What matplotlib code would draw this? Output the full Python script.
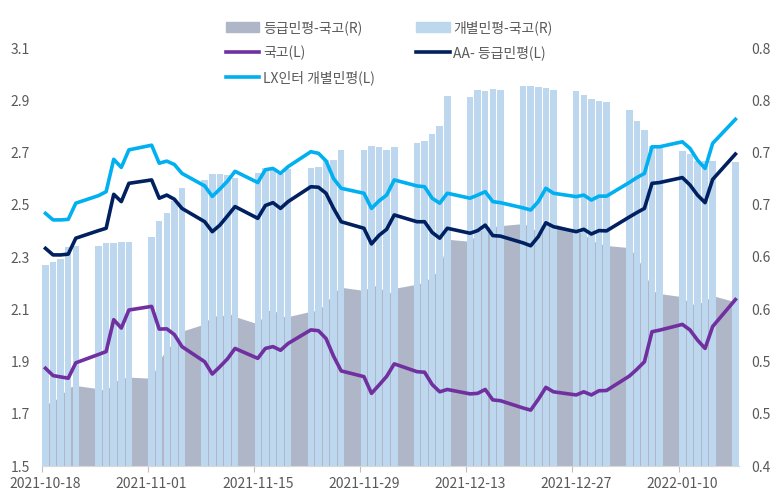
import matplotlib
matplotlib.use("Agg")
import matplotlib.pyplot as plt
from matplotlib.patches import Patch
from matplotlib.lines import Line2D
import numpy as np
import pandas as pd

plt.rcParams['font.family'] = ['Noto Sans CJK KR', 'DejaVu Sans']

# business days 2021-10-18 .. 2022-01-17
dates = pd.bdate_range('2021-10-18', '2022-01-17')

# left axis (%)
ktb = [1.874, 1.846, 1.841, 1.836, 1.895,
       1.927, 1.938, 2.060, 2.028, 2.097,
       2.111, 2.024, 2.025, 2.003, 1.957,
       1.899, 1.852, 1.880, 1.910, 1.950,
       1.912, 1.950, 1.957, 1.943, 1.969,
       2.021, 2.018, 1.988, 1.920, 1.864,
       1.842, 1.778, 1.810, 1.843, 1.891,
       1.861, 1.859, 1.812, 1.784, 1.793,
       1.776, 1.778, 1.793, 1.753, 1.750,
       1.722, 1.714, 1.755, 1.801, 1.784,
       1.772, 1.784, 1.772, 1.788, 1.789,
       1.844, 1.870, 1.899, 2.014, 2.020,
       2.042, 2.021, 1.982, 1.950, 2.034,
       2.137]
aa_minus = [2.333, 2.308, 2.308, 2.311, 2.372,
            2.401, 2.410, 2.540, 2.512, 2.582,
            2.595, 2.525, 2.537, 2.521, 2.486,
            2.435, 2.397, 2.422, 2.457, 2.493,
            2.448, 2.497, 2.508, 2.486, 2.512,
            2.569, 2.567, 2.544, 2.486, 2.435,
            2.410, 2.350, 2.383, 2.406, 2.461,
            2.435, 2.435, 2.394, 2.372, 2.410,
            2.391, 2.401, 2.422, 2.382, 2.380,
            2.354, 2.343, 2.378, 2.431, 2.416,
            2.397, 2.406, 2.388, 2.401, 2.400,
            2.453, 2.470, 2.486, 2.582, 2.585,
            2.604, 2.576, 2.537, 2.508, 2.597,
            2.694]
lx_intl = [2.467, 2.442, 2.442, 2.444, 2.506,
           2.535, 2.550, 2.674, 2.643, 2.710,
           2.728, 2.659, 2.667, 2.654, 2.620,
           2.572, 2.532, 2.560, 2.590, 2.628,
           2.585, 2.634, 2.639, 2.620, 2.646,
           2.703, 2.697, 2.668, 2.600, 2.563,
           2.544, 2.486, 2.515, 2.537, 2.595,
           2.572, 2.569, 2.525, 2.506, 2.544,
           2.525, 2.537, 2.550, 2.512, 2.508,
           2.488, 2.480, 2.512, 2.563, 2.544,
           2.531, 2.537, 2.518, 2.533, 2.533,
           2.585, 2.604, 2.620, 2.722, 2.722,
           2.741, 2.716, 2.671, 2.639, 2.735,
           2.827]

# right axis (%p)
grade_spread = [0.459, 0.462, 0.467, 0.475, 0.477,
                0.474, 0.472, 0.480, 0.484, 0.485,
                0.484, 0.501, 0.512, 0.518, 0.529,
                0.536, 0.545, 0.542, 0.547, 0.543,
                0.536, 0.547, 0.551, 0.543, 0.543,
                0.548, 0.549, 0.556, 0.566, 0.571,
                0.568, 0.572, 0.573, 0.563, 0.570,
                0.574, 0.576, 0.582, 0.588, 0.617,
                0.615, 0.623, 0.629, 0.629, 0.630,
                0.632, 0.629, 0.623, 0.630, 0.632,
                0.625, 0.622, 0.616, 0.613, 0.611,
                0.609, 0.600, 0.587, 0.568, 0.565,
                0.562, 0.555, 0.555, 0.558, 0.563,
                0.557]
indiv_spread = [0.592, 0.595, 0.598, 0.610, 0.611,
                0.611, 0.613, 0.613, 0.614, 0.614,
                0.619, 0.634, 0.642, 0.654, 0.666,
                0.674, 0.679, 0.679, 0.678, 0.676,
                0.680, 0.685, 0.683, 0.679, 0.684,
                0.685, 0.686, 0.693, 0.693, 0.702,
                0.702, 0.706, 0.705, 0.702, 0.705,
                0.709, 0.711, 0.718, 0.725, 0.754,
                0.753, 0.760, 0.759, 0.761, 0.760,
                0.764, 0.764, 0.763, 0.762, 0.760,
                0.759, 0.755, 0.751, 0.749, 0.748,
                0.741, 0.730, 0.722, 0.706, 0.704,
                0.701, 0.699, 0.692, 0.692, 0.692,
                0.691]

tick_dates = pd.to_datetime(['2021-10-18', '2021-11-01', '2021-11-15', '2021-11-29',
                             '2021-12-13', '2021-12-27', '2022-01-10'])
left_ticks = [1.5, 1.7, 1.9, 2.1, 2.3, 2.5, 2.7, 2.9, 3.1]
right_ticks = [0.40, 0.45, 0.50, 0.55, 0.60, 0.65, 0.70, 0.75, 0.80]
right_labels = ['0.4', '0.5', '0.5', '0.6', '0.6', '0.7', '0.7', '0.8', '0.8']

c_gray = '#AEB6C8'
c_bar = '#BDD7EE'
c_ktb = '#7030A0'
c_aa = '#002060'
c_lx = '#00B0F0'
c_txt = '#595959'

x = dates + pd.Timedelta(hours=12)

fig = plt.figure(figsize=(7.78, 4.97), dpi=100)
ax = fig.add_axes([41.7 / 778, 31 / 497, 697.5 / 778, 418 / 497])
ax2 = ax.twinx()
ax.set_zorder(ax2.get_zorder() + 1)
ax.patch.set_visible(False)

ax2.fill_between(x, 0.4, grade_spread, color=c_gray, lw=0, zorder=1)
ax2.bar(x, indiv_spread, width=0.86, color=c_bar, zorder=2)

ax.plot(x, ktb, color=c_ktb, lw=2.6, solid_joinstyle='round')
ax.plot(x, aa_minus, color=c_aa, lw=2.6, solid_joinstyle='round')
ax.plot(x, lx_intl, color=c_lx, lw=2.6, solid_joinstyle='round')

ax.set_xlim(pd.Timestamp('2021-10-18'), pd.Timestamp('2022-01-18'))
ax.set_ylim(1.5, 3.1)
ax2.set_ylim(0.4, 0.8)

ax.set_yticks(left_ticks)
ax.set_yticklabels(['%.1f' % v for v in left_ticks])
ax2.set_yticks(right_ticks)
ax2.set_yticklabels(right_labels)
ax.tick_params(axis='y', length=0, pad=8.5, labelsize=10, labelcolor=c_txt)
ax2.tick_params(axis='y', length=0, pad=8.5, labelsize=10, labelcolor=c_txt)

ax.set_xticks(tick_dates)
ax.set_xticklabels([''] * len(tick_dates))
ax.set_xticks(tick_dates + pd.Timedelta(hours=12), minor=True)
ax.set_xticklabels([d.strftime('%Y-%m-%d') for d in tick_dates], minor=True)
ax.tick_params(axis='x', which='major', length=4, color='#BFBFBF', width=0.8)
ax.tick_params(axis='x', which='minor', length=0, pad=8, labelsize=10, labelcolor=c_txt)
ax2.tick_params(axis='x', which='both', bottom=False, labelbottom=False)

for a in (ax, ax2):
    for s in a.spines.values():
        s.set_visible(False)
ax.spines['bottom'].set_visible(True)
ax.spines['bottom'].set_color('#D9D9D9')

handles = [Patch(color=c_gray), Line2D([], [], color=c_ktb, lw=2.6),
           Line2D([], [], color=c_lx, lw=2.6), Patch(color=c_bar),
           Line2D([], [], color=c_aa, lw=2.6)]
labels = ['등급민평-국고(R)', '국고(L)', 'LX인터 개별민평(L)', '개별민평-국고(R)', 'AA- 등급민평(L)']
ax.legend(handles, labels, ncol=2, loc='upper left',
          bbox_to_anchor=(226 / 778, 1 - 20 / 497), bbox_transform=fig.transFigure,
          frameon=False, handlelength=2.4, handletextpad=0.25, columnspacing=3.0,
          labelspacing=0.75, borderpad=0, borderaxespad=0, fontsize=10,
          labelcolor=c_txt)

fig.savefig('out.png', dpi=100)
